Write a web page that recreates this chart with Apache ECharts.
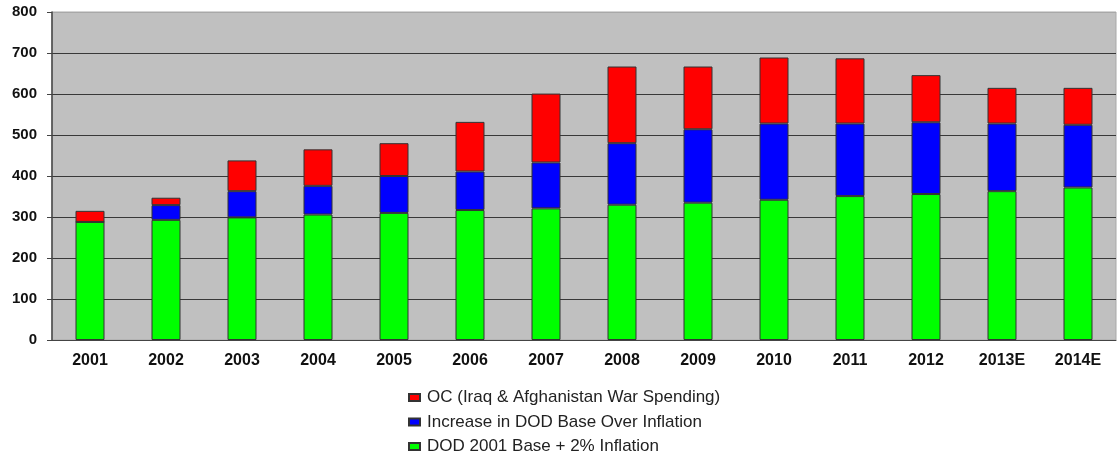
<!DOCTYPE html>
<html>
<head>
<meta charset="utf-8">
<script src="https://cdn.jsdelivr.net/npm/echarts@6/dist/echarts.min.js"></script>
<style>
  html, body { margin: 0; padding: 0; background: #fff; }
  #chart { width: 1118px; height: 454px; }
</style>
</head>
<body>
<div id="chart"></div>
<script>
// Fiscal years (E = estimate)
const categories = ['2001', '2002', '2003', '2004', '2005', '2006', '2007',
                    '2008', '2009', '2010', '2011', '2012', '2013E', '2014E'];

// Spending in $ billions, stacked bottom to top
const baseInflation = [288, 293, 299, 306, 310, 317, 321, 330, 335, 342, 351, 356, 363, 372];
const baseIncrease  = [0, 36, 64, 70, 90, 94, 112, 150, 179, 186, 177, 175, 165, 153];
const warSpending   = [27, 18, 75, 89, 80, 121, 168, 187, 153, 161, 159, 115, 87, 90];

const yTicks = { min: 0, max: 800, interval: 100 };

const seriesNames = {
  oc: 'OC (Iraq & Afghanistan War Spending)',
  inc: 'Increase in DOD Base Over Inflation',
  base: 'DOD 2001 Base + 2% Inflation'
};

const font = "'Liberation Sans', Arial, sans-serif";

// grid lines are dark, the top one blends into the plot frame
const gridLineCount = (yTicks.max - yTicks.min) / yTicks.interval + 1;
const gridLineColors = Array.from({ length: gridLineCount }, (_, i) =>
  i === gridLineCount - 1 ? '#a8a8a8' : '#383838');

function stackSeries(name, data, color) {
  return {
    name: name,
    type: 'bar',
    stack: 'total',
    data: data,
    barWidth: 29,
    itemStyle: { color: color, borderColor: '#333', borderWidth: 1 },
    emphasis: { disabled: true }
  };
}

const chart = echarts.init(document.getElementById('chart'));
chart.setOption({
  animation: false,
  backgroundColor: '#fff',
  textStyle: { fontFamily: font },
  grid: {
    left: 52, right: 2, top: 12, bottom: 114,
    show: true,
    backgroundColor: '#C0C0C0',
    borderColor: '#a8a8a8',
    borderWidth: 1
  },
  legend: {
    orient: 'vertical',
    left: 408,
    top: 389,
    height: 90,
    padding: 0,
    icon: 'rect',
    itemWidth: 11,
    itemHeight: 7,
    itemGap: 7.5,
    data: [seriesNames.oc, seriesNames.inc, seriesNames.base],
    textStyle: { fontFamily: font, fontSize: 17, color: '#222', lineHeight: 16, padding: [0, 0, 0, 2] }
  },
  xAxis: {
    type: 'category',
    data: categories,
    axisTick: { show: false },
    axisLine: { lineStyle: { color: '#444', width: 1 } },
    axisLabel: { color: '#111', fontWeight: 'bold', fontSize: 16, margin: 13, fontFamily: font }
  },
  yAxis: {
    type: 'value',
    min: yTicks.min,
    max: yTicks.max,
    interval: yTicks.interval,
    axisLine: { show: true, lineStyle: { color: '#444', width: 1.5 } },
    axisTick: { show: true, length: 5, lineStyle: { color: '#444' } },
    splitLine: { lineStyle: { color: gridLineColors, width: 1 } },
    axisLabel: { color: '#111', fontWeight: 'bold', fontSize: 15, margin: 15, fontFamily: font }
  },
  series: [
    stackSeries(seriesNames.base, baseInflation, '#00FF00'),
    stackSeries(seriesNames.inc, baseIncrease, '#0000FF'),
    stackSeries(seriesNames.oc, warSpending, '#FF0000')
  ]
});
</script>
</body>
</html>
